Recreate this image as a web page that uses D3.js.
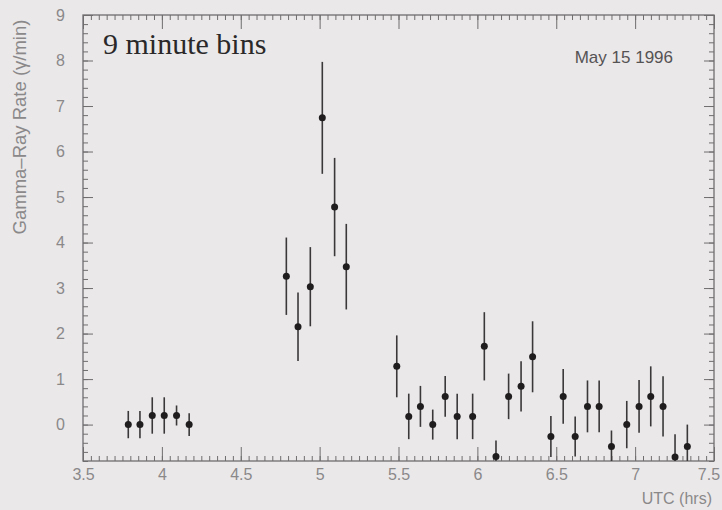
<!DOCTYPE html>
<html>
<head>
<meta charset="utf-8">
<script src="https://cdn.jsdelivr.net/npm/d3@7"></script>
<style>
  html, body { margin: 0; padding: 0; background: #ebe8e9; }
  svg { display: block; }
</style>
</head>
<body>
<svg id="chart" width="722" height="510"></svg>
<script>
// Bin centres (UTC hours)
const times = [
  3.787, 3.861, 3.939, 4.015, 4.093, 4.173,
  4.789, 4.863, 4.941, 5.017, 5.095, 5.169,
  5.489, 5.565, 5.639, 5.717, 5.796, 5.872, 5.970, 6.044, 6.118, 6.198,
  6.277, 6.350, 6.466, 6.544, 6.620, 6.698, 6.772, 6.850, 6.947, 7.025,
  7.099, 7.177, 7.253, 7.331
];
// Gamma-ray rate per bin (counts/min)
const rates = [
  0.00, 0.00, 0.20, 0.20, 0.20, 0.00,
  3.26, 2.15, 3.03, 6.74, 4.78, 3.47,
  1.28, 0.18, 0.40, 0.00, 0.62, 0.18, 0.18, 1.72, -0.70, 0.62,
  0.84, 1.49, -0.26, 0.62, -0.26, 0.40, 0.40, -0.48, 0.00, 0.40,
  0.62, 0.40, -0.71, -0.48
];
// One-sigma uncertainties
const errors = [
  0.30, 0.30, 0.40, 0.40, 0.22, 0.25,
  0.85, 0.75, 0.87, 1.23, 1.08, 0.94,
  0.68, 0.50, 0.45, 0.33, 0.45, 0.50, 0.50, 0.75, 0.35, 0.50,
  0.55, 0.78, 0.45, 0.60, 0.44, 0.57, 0.57, 0.35, 0.52, 0.58,
  0.66, 0.66, 0.50, 0.48
];
const xTickLabels = [3.5, 4, 4.5, 5, 5.5, 6, 6.5, 7, 7.5];
const yTickLabels = [0, 1, 2, 3, 4, 5, 6, 7, 8, 9];

const W = 722, H = 510;
const margin = { left: 83, right: 8, top: 15, bottom: 49 };
const svg = d3.select("#chart");

const x = d3.scaleLinear().domain([3.5, 7.5]).range([margin.left, W - margin.right]);
const y = d3.scaleLinear().domain([-0.8, 9]).range([H - margin.bottom, margin.top]);

const axisColor = "#6f6d6e";
const labelColor = "#8a8889";
const sans = "Liberation Sans, Arial, sans-serif";

// clip region for the data
svg.append("defs").append("clipPath").attr("id", "plot-clip")
  .append("rect")
  .attr("x", x(3.5)).attr("y", y(9))
  .attr("width", x(7.5) - x(3.5)).attr("height", y(-0.8) - y(9));

// frame
svg.append("rect")
  .attr("x", x(3.5)).attr("y", y(9))
  .attr("width", x(7.5) - x(3.5)).attr("height", y(-0.8) - y(9))
  .attr("fill", "none").attr("stroke", axisColor).attr("stroke-width", 1.3);

function styleAxis(g) {
  g.select(".domain").remove();
  g.selectAll(".tick line").attr("stroke", axisColor).attr("stroke-width", 1);
  g.selectAll(".tick text").attr("fill", labelColor)
    .style("font-family", sans).style("font-size", "16px");
}

const xMinor = d3.range(3.5, 7.5001, 0.05);
const xMajor = xTickLabels;
const yMinor = d3.range(-0.8, 9.0001, 0.2).map(v => Math.round(v * 10) / 10);

// bottom axis: ticks pointing up into the frame
svg.append("g").attr("transform", `translate(0,${y(-0.8)})`)
  .call(d3.axisBottom(x).tickValues(xMinor).tickSize(-5).tickFormat(""))
  .call(styleAxis);
const xLabelAxis = svg.append("g").attr("transform", `translate(0,${y(-0.8)})`)
  .call(d3.axisBottom(x).tickValues(xMajor).tickSize(-14).tickPadding(8)
        .tickFormat(d => String(d)))
  .call(styleAxis);
// keep the last label inside the page edge
xLabelAxis.selectAll(".tick text").filter(d => d === 7.5)
  .attr("text-anchor", "end").attr("dx", "0.35em");

// top axis: ticks pointing down
svg.append("g").attr("transform", `translate(0,${y(9)})`)
  .call(d3.axisTop(x).tickValues(xMinor).tickSize(-5).tickFormat(""))
  .call(styleAxis);
svg.append("g").attr("transform", `translate(0,${y(9)})`)
  .call(d3.axisTop(x).tickValues(xMajor).tickSize(-14).tickFormat(""))
  .call(styleAxis);

// left axis: ticks pointing right
svg.append("g").attr("transform", `translate(${x(3.5)},0)`)
  .call(d3.axisLeft(y).tickValues(yMinor).tickSize(-5).tickFormat(""))
  .call(styleAxis);
svg.append("g").attr("transform", `translate(${x(3.5)},0)`)
  .call(d3.axisLeft(y).tickValues(yTickLabels).tickSize(-10).tickPadding(18)
        .tickFormat(d => String(d)))
  .call(styleAxis);

// right axis: ticks pointing left
svg.append("g").attr("transform", `translate(${x(7.5)},0)`)
  .call(d3.axisRight(y).tickValues(yMinor).tickSize(-5).tickFormat(""))
  .call(styleAxis);
svg.append("g").attr("transform", `translate(${x(7.5)},0)`)
  .call(d3.axisRight(y).tickValues(yTickLabels).tickSize(-10).tickFormat(""))
  .call(styleAxis);

// data
const data = times.map((t, i) => ({ t, r: rates[i], e: errors[i] }));
const plot = svg.append("g").attr("clip-path", "url(#plot-clip)");

plot.selectAll("line.err").data(data).join("line")
  .attr("class", "err")
  .attr("x1", d => x(d.t)).attr("x2", d => x(d.t))
  .attr("y1", d => y(d.r - d.e)).attr("y2", d => y(d.r + d.e))
  .attr("stroke", "#3a3839").attr("stroke-width", 1.6);

plot.selectAll("circle.pt").data(data).join("circle")
  .attr("class", "pt")
  .attr("cx", d => x(d.t)).attr("cy", d => y(d.r))
  .attr("r", 3.5)
  .attr("fill", "#1f1d1e");

// annotations
svg.append("text")
  .attr("x", 103).attr("y", 54)
  .attr("fill", "#2a2829")
  .style("font-family", "Liberation Serif, 'DejaVu Serif', serif")
  .style("font-size", "30px")
  .text("9 minute bins");

svg.append("text")
  .attr("x", 673).attr("y", 63).attr("text-anchor", "end")
  .attr("fill", "#555354")
  .style("font-family", sans)
  .style("font-size", "17px")
  .text("May 15 1996");

svg.append("text")
  .attr("x", 712).attr("y", 504).attr("text-anchor", "end")
  .attr("fill", labelColor)
  .style("font-family", sans)
  .style("font-size", "16px")
  .text("UTC (hrs)");

svg.append("text")
  .attr("transform", `translate(26,127) rotate(-90)`)
  .attr("text-anchor", "middle")
  .attr("fill", labelColor)
  .style("font-family", sans)
  .style("font-size", "18.5px")
  .text("Gamma\u2013Ray Rate (\u03b3/min)");
</script>
</body>
</html>
